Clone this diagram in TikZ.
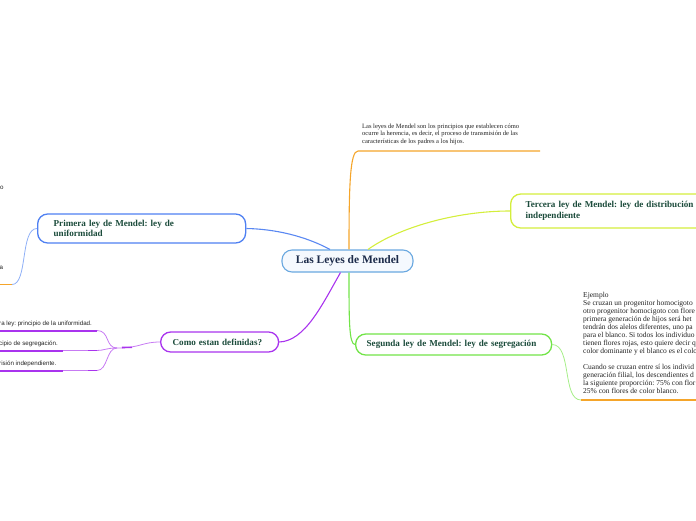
\documentclass[tikz,border=0pt]{standalone}
\usepackage{fontspec}
\setmainfont{Liberation Serif}
\newfontfamily\sansf{Liberation Sans}
\definecolor{titlegreen}{HTML}{1B4B3B}
\definecolor{centertext}{HTML}{1C2B4A}
\definecolor{notetext}{HTML}{222222}
\definecolor{centerB}{HTML}{6AA8E0}
\definecolor{centerF}{HTML}{F5F9FE}
\definecolor{blueB}{HTML}{4F80F2}
\definecolor{blueC}{HTML}{5A88F2}
\definecolor{blueL}{HTML}{8FB0F7}
\definecolor{orangeC}{HTML}{F5A52A}
\definecolor{yellowC}{HTML}{D4EE3C}
\definecolor{greenC}{HTML}{72E448}
\definecolor{greenL}{HTML}{A6EE88}
\definecolor{purpleC}{HTML}{A934EE}
\definecolor{purpleL}{HTML}{C77BF3}
\frenchspacing
\begin{document}
\begin{tikzpicture}[x=1pt,y=-1pt,
  box/.style={draw, rounded corners=10pt, line width=1.3pt, fill=white, align=left,
    text=titlegreen, font=\bfseries\fontsize{9.1}{10.5}\selectfont, inner ysep=0pt, anchor=west},
  conn/.style={line width=1.1pt},
  note/.style={inner sep=0pt, anchor=north west, align=left, text=notetext},
  item/.style={inner sep=0pt, anchor=base west, text=notetext, font=\sansf\fontsize{6.2}{7}\selectfont},
]
\useasboundingbox (0,0) rectangle (696,520);

% central node
\node[draw=centerB, fill=centerF, rounded corners=10pt, line width=1.1pt,
  minimum width=131pt, minimum height=22pt, inner sep=0pt, text=centertext,
  font=\bfseries\fontsize{11.5}{13}\selectfont] (center) at (347.5,261) {Las Leyes de Mendel};

% main topics
\node[box, draw=blueB, minimum height=29pt, text width=176pt, inner xsep=16pt] (primera) at (37,228.5)
  {Primera ley de Mendel: ley de\\uniformidad};
\node[box, draw=purpleC, minimum height=20pt, text width=94pt, inner xsep=12pt] (como) at (160,342)
  {Como estan definidas?};
\node[box, draw=greenC, minimum height=21pt, text width=174pt, inner xsep=11pt] (segunda) at (355,344.5)
  {Segunda ley de Mendel: ley de segregación};
\node[box, draw=yellowC, minimum height=34pt, text width=220pt, inner xsep=15pt] (tercera) at (510,211)
  {Tercera ley de Mendel: ley de distribución\\independiente};

% description
\node[note, font=\fontsize{6.5}{7.2}\selectfont] (desc) at (362,124)
  {Las leyes de Mendel son los principios que establecen cómo\\
   ocurre la herencia, es decir, el proceso de transmisión de las\\
   características de los padres a los hijos.};
\coordinate (descL) at (358,151);
\coordinate (descR) at (540,151);

% example
\node[note, font=\fontsize{7.5}{8}\selectfont] (ejemplo) at (583,292)
  {Ejemplo\\
   Se cruzan un progenitor homocigoto\\
   otro progenitor homocigoto con flore\\
   primera generación de hijos será het\\
   tendrán dos alelos diferentes, uno pa\\
   para el blanco. Si todos los individuo\\
   tienen flores rojas, esto quiere decir q\\
   color dominante y el blanco es el colo\\[8pt]
   Cuando se cruzan entre sí los individ\\
   generación filial, los descendientes d\\
   la siguiente proporción: 75\% con flor\\
   25\% con flores de color blanco.};
\coordinate (exL) at (581,400);
\coordinate (exR) at (696,400);

% left fragments
\node[item] (frago) at (0,189) {o};
\node[item] (fraga) at (-0.5,269) {a};
\coordinate (aL) at (12,284.5);
\coordinate (aR) at (0,284.5);

% items of "Como estan definidas?"
\node[item] (it1) at (-1,325) {ra ley: principio de la uniformidad.};
\node[item] (it2) at (-1,345) {cipio de segregación.};
\node[item] (it3) at (-1,365) {risión independiente.};
\coordinate (u1s) at (0,330.5); \coordinate (u1e) at (97,330.5);
\coordinate (u2s) at (0,350.5); \coordinate (u2e) at (63,350.5);
\coordinate (u3s) at (0,370.5); \coordinate (u3e) at (63,370.5);
\coordinate (j) at (117,348);

% connectors from the centre
\draw[conn, blueC] ([xshift=-17.5pt]center.north) .. controls (305,236) and (275,229) .. (primera.east);
\draw[conn, orangeC] ([xshift=1.5pt]center.north) .. controls (349,185) and (350,151) .. (descL) -- (descR);
\draw[conn, yellowC] ([xshift=20.5pt]center.north) .. controls (398,228) and (455,211) .. (tercera.west);
\draw[conn, purpleC] ([xshift=-7pt]center.south) .. controls (322,305) and (305,341) .. (como.east);
\draw[conn, greenC] ([xshift=1.5pt]center.south) .. controls (349,320) and (349,344.5) .. (segunda.west);

% secondary connectors
\draw[line width=0.8pt, greenL] (segunda.east) .. controls (572,345) and (562,400) .. (exL);
\draw[line width=1.2pt, orangeC] (exL) -- (exR);
\draw[line width=0.8pt, blueL] (primera.west) .. controls (20,228.5) and (28,284.5) .. (aL);
\draw[line width=1.5pt, orangeC] (aL) -- (aR);

\draw[line width=0.8pt, purpleL] (como.west) .. controls (142,342) and (140,348) .. (j);
\draw[line width=0.8pt, purpleL] (j) .. controls (105,348) and (110,330.5) .. (u1e);
\draw[line width=0.8pt, purpleL] (j) .. controls (106,348) and (104,350.5) .. (97,350.5) -- (u2e);
\draw[line width=0.8pt, purpleL] (j) .. controls (106,348) and (108,370.5) .. (97,370.5) -- (u3e);
\draw[line width=2pt, purpleC] (u1e) -- (u1s);
\draw[line width=2pt, purpleC] (u2e) -- (u2s);
\draw[line width=2pt, purpleC] (u3e) -- (u3s);
\draw[line width=1.6pt, purpleC] (88,350.5) -- (97,350.5);
\draw[line width=1.6pt, purpleC] (88,370.5) -- (97,370.5);
\draw[line width=1.6pt, purpleC] (122,347.5) -- (132,347.3);
\end{tikzpicture}
\end{document}
